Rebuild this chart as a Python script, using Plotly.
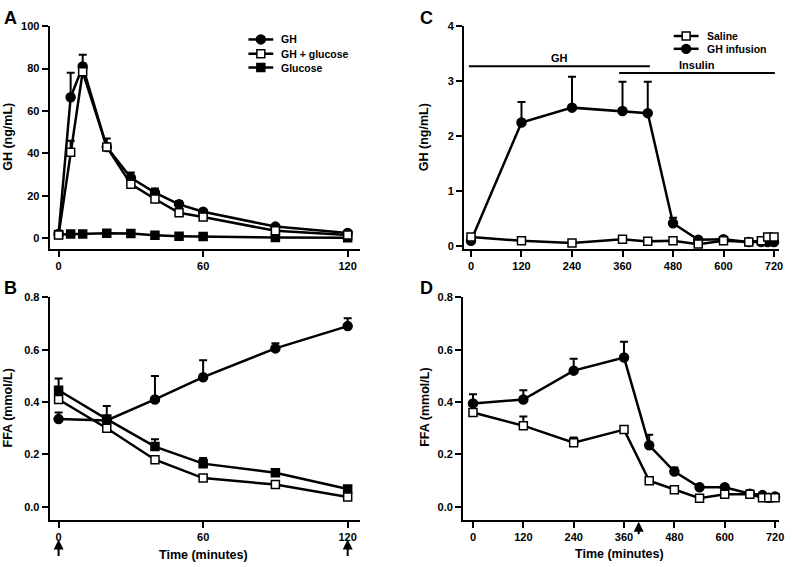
import plotly.graph_objects as go

# ---------------- data ----------------
# Panel A: GH (ng/mL) during bolus study
a_time = [0, 5, 10, 20, 30, 40, 50, 60, 90, 120]
a_gh = [2.0, 66.5, 81.0, 43.0, 28.5, 21.5, 16.0, 12.5, 5.5, 2.5]
a_gh_err = [0, 11.5, 5.5, 4.0, 2.5, 2.0, 1.5, 1.0, 0.7, 0.5]
a_ghglu = [1.5, 40.5, 78.5, 43.0, 25.5, 18.5, 12.0, 10.0, 3.5, 1.5]
a_ghglu_err = [0, 5.5, 2.0, 1.5, 1.0, 1.0, 0.8, 0.7, 0.5, 0.3]
a_glu = [1.8, 2.0, 2.0, 2.4, 2.2, 1.4, 1.0, 0.8, 0.3, 0.2]
a_glu_err = [0.2, 0.2, 0.2, 0.2, 0.2, 0.2, 0.1, 0.1, 0.1, 0.1]

# Panel B: FFA (mmol/L)
b_time = [0, 20, 40, 60, 90, 120]
b_gh = [0.335, 0.33, 0.41, 0.495, 0.605, 0.69]
b_gh_err = [0.025, 0.055, 0.09, 0.065, 0.02, 0.03]
b_ghglu = [0.41, 0.30, 0.18, 0.11, 0.085, 0.038]
b_ghglu_err = [0.01, 0.01, 0.012, 0.005, 0.005, 0.005]
b_glu = [0.445, 0.335, 0.23, 0.165, 0.13, 0.068]
b_glu_err = [0.045, 0.01, 0.028, 0.022, 0.015, 0.005]

# Panel C: GH (ng/mL) during infusion study
c_time = [0, 120, 240, 360, 420, 480, 540, 600, 660, 690, 705, 720]
c_ghinf = [0.10, 2.25, 2.52, 2.46, 2.42, 0.42, 0.12, 0.13, 0.08, 0.08, 0.08, 0.08]
c_ghinf_err = [0.02, 0.37, 0.56, 0.53, 0.57, 0.10, 0.02, 0.03, 0.01, 0.01, 0.01, 0.01]
c_saline = [0.17, 0.10, 0.06, 0.13, 0.09, 0.10, 0.04, 0.10, 0.08, 0.10, 0.17, 0.17]
c_saline_err = [0.01, 0.01, 0.01, 0.01, 0.01, 0.01, 0.01, 0.01, 0.01, 0.01, 0.01, 0.01]

# Panel D: FFA (mmol/L) during infusion study
d_time = [0, 120, 240, 360, 420, 480, 540, 600, 660, 690, 705, 720]
d_ghinf = [0.395, 0.41, 0.52, 0.57, 0.235, 0.135, 0.075, 0.075, 0.05, 0.045, 0.035, 0.04]
d_ghinf_err = [0.035, 0.035, 0.045, 0.06, 0.04, 0.015, 0.005, 0.005, 0.005, 0.005, 0.005, 0.005]
d_saline = [0.36, 0.31, 0.245, 0.295, 0.10, 0.065, 0.033, 0.048, 0.048, 0.035, 0.035, 0.035]
d_saline_err = [0.01, 0.035, 0.02, 0.01, 0.005, 0.005, 0.003, 0.003, 0.003, 0.003, 0.003, 0.003]

# Bars indicating infusions in panel C (minutes) and their labels
c_gh_period = [-5, 425]
c_insulin_period = [352, 722]

a_xticks = [0, 60, 120]
a_yticks = [0, 20, 40, 60, 80, 100]
b_yticks = [0.0, 0.2, 0.4, 0.6, 0.8]
c_xticks = [0, 120, 240, 360, 480, 600, 720]
c_yticks = [0, 1, 2, 3, 4]

# ---------------- figure ----------------
W, H = 792, 567
FONT = "Liberation Sans"
BLACK = "black"


def px_x(v):
    return v / W


def px_y(v):
    return 1 - v / H


fig = go.Figure()


def add_series(x, y, err, symbol, filled, xa, ya, name):
    fig.add_trace(go.Scatter(
        x=x, y=y, mode="lines+markers", name=name, showlegend=False,
        xaxis=xa, yaxis=ya,
        line=dict(color=BLACK, width=2.5),
        marker=dict(symbol=symbol, size=9 if symbol == "circle" else 8,
                    color=BLACK if filled else "white",
                    line=dict(color=BLACK, width=1.5)),
        error_y=dict(type="data", symmetric=False, array=err,
                     arrayminus=[0] * len(err), color=BLACK,
                     thickness=2, width=4),
        cliponaxis=False,
    ))


# Panel A
add_series(a_time, a_glu, a_glu_err, "square", True, "x", "y", "Glucose")
add_series(a_time, a_gh, a_gh_err, "circle", True, "x", "y", "GH")
add_series(a_time, a_ghglu, a_ghglu_err, "square", False, "x", "y", "GH + glucose")
# Panel B
add_series(b_time, b_gh, b_gh_err, "circle", True, "x2", "y2", "GH")
add_series(b_time, b_glu, b_glu_err, "square", True, "x2", "y2", "Glucose")
add_series(b_time, b_ghglu, b_ghglu_err, "square", False, "x2", "y2", "GH + glucose")
# Panel C
add_series(c_time, c_ghinf, c_ghinf_err, "circle", True, "x3", "y3", "GH infusion")
add_series(c_time, c_saline, c_saline_err, "square", False, "x3", "y3", "Saline")
# Panel D
add_series(d_time, d_ghinf, d_ghinf_err, "circle", True, "x4", "y4", "GH infusion")
add_series(d_time, d_saline, d_saline_err, "square", False, "x4", "y4", "Saline")

tickfont = dict(family=FONT, size=11, color=BLACK, weight="bold")


def axis(domain, rng, tickvals, anchor, fmt=None):
    d = dict(domain=domain, range=rng, tickvals=tickvals, showgrid=False,
             zeroline=False, showline=True, linecolor=BLACK, linewidth=2,
             ticks="outside", ticklen=6, tickwidth=2, tickcolor=BLACK,
             tickfont=tickfont, fixedrange=True, anchor=anchor)
    if fmt:
        d["tickformat"] = fmt
    return d


# pixel geometry of the panels
ax_left, ax_right = 50, 362
cx_left, cx_right = 467, 784
dx_left, dx_right = 466, 784
top_y0, top_y1 = 20.5, 247
bot_y0, bot_y1 = 296, 522

fig.update_layout(
    width=W, height=H, margin=dict(l=0, r=0, t=0, b=0),
    plot_bgcolor="white", paper_bgcolor="white", showlegend=False,
    xaxis=axis([px_x(ax_left), px_x(ax_right)], [-3.7, 125], a_xticks, "y"),
    yaxis=axis([px_y(top_y1), px_y(top_y0)], [-5.1, 100], a_yticks, "x"),
    xaxis2=axis([px_x(ax_left), px_x(ax_right)], [-3.7, 125], a_xticks, "y2"),
    yaxis2=axis([px_y(bot_y1), px_y(bot_y0)], [-0.049, 0.8], b_yticks, "x2", ".1f"),
    xaxis3=axis([px_x(cx_left), px_x(cx_right)], [-16.5, 732], c_xticks, "y3"),
    yaxis3=axis([px_y(top_y1), px_y(top_y0)], [-0.05, 4], c_yticks, "x3"),
    xaxis4=axis([px_x(dx_left), px_x(dx_right)], [-23.7, 729.5], c_xticks, "y4"),
    yaxis4=axis([px_y(bot_y1), px_y(bot_y0)], [-0.049, 0.8], b_yticks, "x4", ".1f"),
)

annotations = []
shapes = []


def text(x, y, s, size=11, xanchor="center", angle=0, yanchor="middle"):
    annotations.append(dict(
        x=px_x(x), y=px_y(y), xref="paper", yref="paper", text=s,
        showarrow=False, xanchor=xanchor, yanchor=yanchor, textangle=angle,
        font=dict(family=FONT, size=size, color=BLACK, weight="bold")))


# panel letters
text(2, 12, "A", 18, "left")
text(2, 287, "B", 18, "left")
text(421, 12, "C", 18, "left")
text(421, 287, "D", 18, "left")

# axis titles
text(8, 133, "GH (ng/mL)", 12.5, angle=-90)
text(8, 408, "FFA (mmol/L)", 12.5, angle=-90)
text(427, 133, "GH (ng/mL)", 12.5, angle=-90)
text(427, 408, "FFA (mmol/L)", 12.5, angle=-90)
text(205, 558, "Time (minutes)", 12.5)
text(623, 557, "Time (minutes)", 12.5)


# manual legends
def legend_row(x0, y, symbol, filled, label):
    shapes.append(dict(type="line", xref="paper", yref="paper",
                       x0=px_x(x0), x1=px_x(x0 + 25), y0=px_y(y), y1=px_y(y),
                       line=dict(color=BLACK, width=2.5)))
    cx = x0 + 12.5
    half = 4.5 if symbol == "circle" else 4
    shapes.append(dict(type="circle" if symbol == "circle" else "rect",
                       xref="paper", yref="paper",
                       x0=px_x(cx - half), x1=px_x(cx + half),
                       y0=px_y(y - half), y1=px_y(y + half),
                       fillcolor=BLACK if filled else "white",
                       line=dict(color=BLACK, width=1.5)))
    text(x0 + 31, y, label, 10.5, "left")


legend_row(250, 34, "circle", True, "GH")
legend_row(250, 48.5, "square", False, "GH + glucose")
legend_row(250, 62.5, "square", True, "Glucose")
legend_row(678, 30.5, "square", False, "Saline")
legend_row(678, 43.5, "circle", True, "GH infusion")

# infusion period bars in panel C
gh_bar_y, ins_bar_y = 3.27, 3.15
shapes.append(dict(type="line", xref="x3", yref="y3",
                   x0=c_gh_period[0], x1=c_gh_period[1], y0=gh_bar_y, y1=gh_bar_y,
                   line=dict(color=BLACK, width=2)))
shapes.append(dict(type="line", xref="x3", yref="y3",
                   x0=c_insulin_period[0], x1=c_insulin_period[1],
                   y0=ins_bar_y, y1=ins_bar_y, line=dict(color=BLACK, width=2)))
annotations.append(dict(x=sum(c_gh_period) / 2, y=gh_bar_y, xref="x3", yref="y3",
                        text="GH", showarrow=False, yanchor="bottom", yshift=0,
                        font=dict(family=FONT, size=11, color=BLACK, weight="bold")))
annotations.append(dict(x=sum(c_insulin_period) / 2, y=ins_bar_y, xref="x3", yref="y3",
                        text="Insulin", showarrow=False, yanchor="bottom", yshift=0,
                        font=dict(family=FONT, size=11, color=BLACK, weight="bold")))

# arrows marking time points
arrow_b = [0, 120]
arrow_d = [395]
for t in arrow_b:
    annotations.append(dict(x=t, y=px_y(542), xref="x2", yref="paper", text="",
                            showarrow=True, ax=0, ay=18, arrowhead=2, arrowsize=1,
                            arrowwidth=2, arrowcolor=BLACK))
for t in arrow_d:
    annotations.append(dict(x=t, y=px_y(524), xref="x4", yref="paper", text="",
                            showarrow=True, ax=0, ay=14, arrowhead=2, arrowsize=1,
                            arrowwidth=2, arrowcolor=BLACK))

fig.update_layout(annotations=annotations, shapes=shapes)
fig.write_html("out.html", config={"displayModeBar": False},
               post_script="document.body.style.margin='0';document.body.style.overflow='hidden';")
